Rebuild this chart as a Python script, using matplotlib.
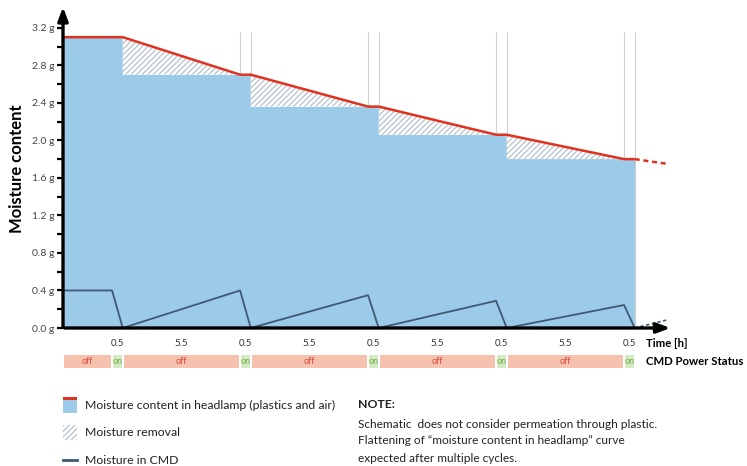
import matplotlib
matplotlib.use("Agg")
import matplotlib.pyplot as plt
from matplotlib.patches import Rectangle
import numpy as np

# CMD "on" windows (hours) and the levels reached at the end of each cycle
on_start = [2.3, 8.3, 14.3, 20.3, 26.3]
on_len = 0.5
level = [3.1, 2.7, 2.36, 2.06, 1.80]
cmd_peak = [0.4, 0.4, 0.35, 0.29, 0.245]
head_start = 3.1
head_extra_t = [26.8, 28.3]
head_extra_m = [1.80, 1.75]
cmd_extra_t = [26.8, 28.3]
cmd_extra_m = [0.0, 0.085]
yticks = [0.0, 0.4, 0.8, 1.2, 1.6, 2.0, 2.4, 2.8, 3.2]
seg_labels = ["0.5", "5.5"]

BLUE = "#9ccae9"
RED = "#e0321f"
SLATE = "#3e5a72"
OFF_C = "#f7c2ad"
ON_C = "#d6eac3"

plt.rcParams['font.family'] = ['Lato', 'DejaVu Sans']

fig = plt.figure(figsize=(7.47, 4.66), dpi=100)
ax = fig.add_axes([63 / 747, 138 / 466, (671 - 63) / 747, (328 - 9) / 466])
ax.set_xlim(0, 28.5)
ax.set_ylim(0, 3.4)

on_end = [s + on_len for s in on_start]

# headlamp moisture (red line)
th = [0.0, on_end[0]]
mh = [head_start, head_start]
for i in range(1, len(on_start)):
    th += [on_start[i], on_end[i]]
    mh += [level[i], level[i]]

# blue fill: step at each cycle end
tb = [0.0]
mb = [head_start]
for i in range(len(on_start)):
    tb += [on_end[i]]
    mb += [level[i]]
ax.fill_between(tb, mb, step="pre", color=BLUE, lw=0, zorder=2)

# hatched moisture removal
for i in range(1, len(on_start)):
    x = np.array([on_end[i - 1], on_start[i]])
    y = np.array([level[i - 1], level[i]])
    ax.fill_between(x, y, level[i], facecolor="white", edgecolor="#bcc6d0",
                    hatch="//////", lw=0, zorder=2)

# thin gray markers of on windows
for s, e in zip(on_start[1:], on_end[1:]):
    ax.vlines([s, e], 0, 3.15, color="#d0d0d0", lw=0.8, zorder=1)

ax.plot(th, mh, color=RED, lw=1.8, zorder=4, solid_capstyle="butt")
ax.plot(head_extra_t, head_extra_m, color=RED, lw=1.8, ls=(0, (2, 1.5)), zorder=4)

# CMD moisture
tc = [0.0, on_start[0], on_end[0]]
mc = [cmd_peak[0], cmd_peak[0], 0.0]
for i in range(1, len(on_start)):
    tc += [on_start[i], on_end[i]]
    mc += [cmd_peak[i], 0.0]
ax.plot(tc, mc, color=SLATE, lw=1.3, zorder=4)
ax.plot(cmd_extra_t, cmd_extra_m, color=SLATE, lw=1.2, ls=(0, (2, 1.5)), zorder=4)

# axes with arrows
for s in ax.spines.values():
    s.set_visible(False)
ax.annotate("", xy=(28.6, 0), xytext=(-0.05, 0), annotation_clip=False,
            arrowprops=dict(arrowstyle="-|>,head_length=0.8,head_width=0.3", lw=2.4, color="black"), zorder=6)
ax.annotate("", xy=(0, 3.45), xytext=(0, -0.02), annotation_clip=False,
            arrowprops=dict(arrowstyle="-|>,head_length=0.8,head_width=0.3", lw=2.4, color="black"), zorder=6)

ax.set_yticks(yticks)
ax.set_yticklabels(["%.1f g" % v for v in yticks])
ax.set_yticks(np.arange(0.2, 3.2, 0.4), minor=True)
ax.tick_params(axis="y", which="both", direction="out", length=4, width=1.6,
               labelsize=7.5, labelcolor="#444444", pad=2)
ax.set_xticks([])
ax.set_ylabel("Moisture content", fontsize=12, fontweight="bold", labelpad=5)

# segment duration labels and power status bar
bounds = [0.0]
for s, e in zip(on_start, on_end):
    bounds += [s, e]
for k in range(len(bounds) - 1):
    a, b = bounds[k], bounds[k + 1]
    is_on = k % 2 == 1
    if k > 0:
        ax.text((a + b) / 2, -0.16, seg_labels[0] if is_on else seg_labels[1],
                ha="center", va="center", fontsize=7, color="#333333", clip_on=False)
    ax.add_patch(Rectangle((a + 0.04, -0.43), b - a - 0.08, 0.14,
                           facecolor=ON_C if is_on else OFF_C, lw=0, clip_on=False))
    ax.text((a + b) / 2, -0.36, "on" if is_on else "off", ha="center", va="center",
            fontsize=6.5, color="#6cb04a" if is_on else "#e0463a", clip_on=False)

ax.text(27.35, -0.16, "Time [h]", fontsize=8.2, fontweight="bold", va="center", clip_on=False)
ax.text(27.35, -0.36, "CMD Power Status", fontsize=8.2, fontweight="bold", va="center", clip_on=False)

# legend and note
ov = fig.add_axes([0, 0, 1, 1])
ov.set_xlim(0, 747)
ov.set_ylim(466, 0)
ov.axis("off")
ov.add_patch(Rectangle((63, 397), 14, 16, facecolor=BLUE, lw=0))
ov.add_patch(Rectangle((63, 397), 14, 3, facecolor=RED, lw=0))
ov.add_patch(Rectangle((63, 425), 14, 15, facecolor="white", edgecolor="#bcc6d0",
                       hatch="//////", lw=0))
ov.plot([63, 77], [460, 460], color=SLATE, lw=2)
ov.text(85, 405, "Moisture content in headlamp (plastics and air)", fontsize=8.8, va="center", color="#222222")
ov.text(85, 432, "Moisture removal", fontsize=8.8, va="center", color="#222222")
ov.text(85, 460, "Moisture in CMD", fontsize=8.8, va="center", color="#222222")

ov.text(358, 405, "NOTE:", fontsize=8.8, fontweight="bold", va="center", color="#222222")
ov.text(358, 424, "Schematic  does not consider permeation through plastic.", fontsize=8.6, va="center", color="#222222")
ov.text(358, 441, "Flattening of \u201cmoisture content in headlamp\u201d curve", fontsize=8.6, va="center", color="#222222")
ov.text(358, 458, "expected after multiple cycles.", fontsize=8.6, va="center", color="#222222")

fig.savefig("out.png", dpi=100)
